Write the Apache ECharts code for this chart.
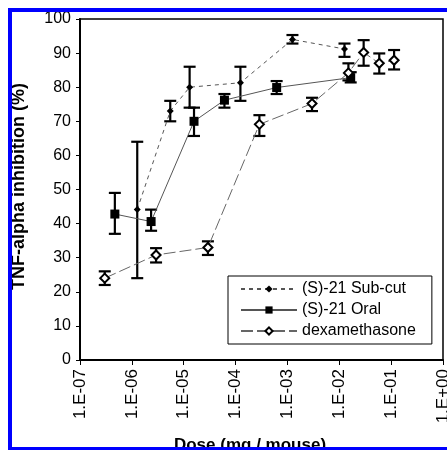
<!DOCTYPE html>
<html>
<head>
    <meta charset="utf-8" />
    <title>TNF-alpha inhibition</title>
</head>
<body style="margin:0;background:#fff;">
    <div id="main" style="width:447px;height:450px;"></div>
    <script src="https://cdn.jsdelivr.net/npm/echarts@6/dist/echarts.min.js"></script>
    <script type="text/javascript">
        // doses (mg / mouse), mean inhibition (%), error bar low / high
        var subcutDose = [1.27e-6, 5.5e-6, 1.3e-5, 1.24e-4, 1.25e-3, 1.26e-2];
        var subcutVal  = [44.1, 73, 80, 81.3, 94, 91.2];
        var subcutLow  = [24, 70, 74, 76, 92.8, 88.9];
        var subcutHigh = [64, 76, 86, 86, 95.3, 92.8];

        var oralDose = [4.7e-7, 2.35e-6, 1.58e-5, 6.1e-5, 6.2e-4, 1.66e-2];
        var oralVal  = [42.8, 40.6, 70, 76.2, 79.9, 82.8];
        var oralLow  = [37, 37.9, 65.7, 74, 78, 81.4];
        var oralHigh = [49, 44.1, 74, 78, 81.8, 84.4];

        var dexDose = [3e-7, 2.93e-6, 2.93e-5, 2.88e-4, 2.98e-3, 1.5e-2, 2.95e-2, 5.9e-2, 0.114];
        var dexVal  = [24, 30.8, 33, 69.1, 75.2, 84.2, 90.2, 87, 87.9];
        var dexLow  = [22, 28.6, 30.8, 65.7, 73, 82, 86.3, 84, 85.2];
        var dexHigh = [26, 32.8, 34.8, 71.8, 76.9, 87, 93.8, 89.9, 90.9];

        var seriesNames = ['(S)-21 Sub-cut', '(S)-21 Oral', 'dexamethasone'];

        function pairs(xs, ys) {
            return xs.map(function (x, i) { return [x, ys[i]]; });
        }
        function bars(xs, lo, hi) {
            return xs.map(function (x, i) { return [x, lo[i], hi[i]]; });
        }

        // vertical error bar with caps
        function renderBar(params, api) {
            var x = api.value(0);
            var top = api.coord([x, api.value(2)]);
            var bot = api.coord([x, api.value(1)]);
            var w = 6;
            var st = { stroke: '#000', lineWidth: 2.2 };
            return {
                type: 'group',
                children: [
                    { type: 'line', shape: { x1: top[0], y1: top[1], x2: bot[0], y2: bot[1] }, style: st },
                    { type: 'line', shape: { x1: top[0] - w, y1: top[1], x2: top[0] + w, y2: top[1] }, style: st },
                    { type: 'line', shape: { x1: bot[0] - w, y1: bot[1], x2: bot[0] + w, y2: bot[1] }, style: st }
                ]
            };
        }

        var font = 'Liberation Sans, Arial, sans-serif';
        var chart = echarts.init(document.getElementById('main'));

        var option = {
            animation: false,
            grid: {
                left: 80, right: 4, top: 19, bottom: 90,
                outerBoundsMode: 'none', containLabel: false,
                show: true, borderColor: '#000', borderWidth: 1.5
            },
            legend: {
                orient: 'vertical',
                left: 228,
                top: 276,
                padding: [5, 16, 5, 12],
                itemGap: 5,
                itemWidth: 56,
                itemHeight: 9,
                borderColor: '#000',
                borderWidth: 1,
                backgroundColor: '#fff',
                data: seriesNames,
                textStyle: { fontFamily: font, fontSize: 16, color: '#000' }
            },
            xAxis: {
                type: 'log',
                logBase: 10,
                min: 1e-7,
                max: 1,
                splitNumber: 7,
                splitLine: { show: false },
                axisLine: { lineStyle: { color: '#000', width: 2 } },
                axisTick: { show: true, length: 5, lineStyle: { color: '#000' } },
                axisLabel: {
                    rotate: 90,
                    margin: 9,
                    fontFamily: font,
                    fontSize: 17,
                    color: '#000',
                    showMaxLabel: true,
                    formatter: function (v) {
                        var e = Math.round(Math.log10(v));
                        return '1.E' + (e < 0 ? '-' : '+') + String(Math.abs(e)).padStart(2, '0');
                    }
                },
                name: 'Dose (mg / mouse)',
                nameLocation: 'middle',
                nameGap: 77,
                nameTextStyle: { fontFamily: font, fontSize: 17, fontWeight: 'bold', color: '#000', padding: [0, 23, 0, 0] }
            },
            yAxis: {
                type: 'value',
                min: 0,
                max: 100,
                interval: 10,
                splitLine: { show: false },
                axisLine: { show: true, lineStyle: { color: '#000', width: 2 } },
                axisTick: { show: true, length: 4, lineStyle: { color: '#000' } },
                axisLabel: { margin: 9, fontFamily: font, fontSize: 16, color: '#000' },
                name: 'TNF-alpha inhibition (%)',
                nameLocation: 'middle',
                nameGap: 52,
                nameTextStyle: { fontFamily: font, fontSize: 18, fontWeight: 'bold', color: '#000', padding: [0, 0, 0, 6] }
            },
            series: [
                {
                    name: seriesNames[0],
                    type: 'line',
                    data: pairs(subcutDose, subcutVal),
                    symbol: 'diamond',
                    symbolSize: 7,
                    itemStyle: { color: '#000' },
                    lineStyle: { color: '#555', width: 1, type: [4, 4] },
                    z: 4
                },
                {
                    name: seriesNames[1],
                    type: 'line',
                    data: pairs(oralDose, oralVal),
                    symbol: 'rect',
                    symbolSize: 9,
                    itemStyle: { color: '#000' },
                    lineStyle: { color: '#555', width: 1 },
                    z: 4
                },
                {
                    name: seriesNames[2],
                    type: 'line',
                    data: pairs(dexDose, dexVal),
                    symbol: 'diamond',
                    symbolSize: 9,
                    itemStyle: { color: '#fff', borderColor: '#000', borderWidth: 2 },
                    lineStyle: { color: '#666', width: 1, type: [12, 4] },
                    z: 4
                },
                { type: 'custom', renderItem: renderBar, data: bars(subcutDose, subcutLow, subcutHigh), z: 3 },
                { type: 'custom', renderItem: renderBar, data: bars(oralDose, oralLow, oralHigh), z: 3 },
                { type: 'custom', renderItem: renderBar, data: bars(dexDose, dexLow, dexHigh), z: 3 }
            ],
            graphic: [
                { type: 'rect', shape: { x: 8, y: 8, width: 4, height: 442 }, style: { fill: '#0000ff' }, z: 100 },
                { type: 'rect', shape: { x: 8, y: 8, width: 439, height: 4 }, style: { fill: '#0000ff' }, z: 100 },
                { type: 'rect', shape: { x: 8, y: 447, width: 439, height: 3 }, style: { fill: '#0000ff' }, z: 100 },
                { type: 'rect', shape: { x: 0, y: 0, width: 8, height: 450 }, style: { fill: '#fff' }, z: 100 },
                { type: 'rect', shape: { x: 0, y: 0, width: 447, height: 8 }, style: { fill: '#fff' }, z: 100 }
            ]
        };

        chart.setOption(option);
    </script>
</body>
</html>
